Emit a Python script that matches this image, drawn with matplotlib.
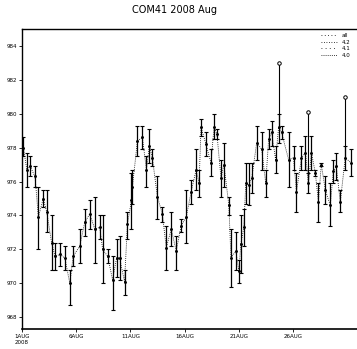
import matplotlib.pyplot as plt

# days since 1 Aug 2008 00:00, pressure (hPa): mid, low, high
day = [0.12, 0.43, 0.73, 1.19, 1.50, 1.95, 2.27, 2.72, 3.03, 3.49, 3.94, 4.40, 4.71,
       5.32, 5.78, 6.24, 6.70, 7.16, 7.43, 7.89, 8.35, 8.72, 8.99, 9.45, 9.72, 10.09,
       10.18, 10.64, 11.10, 11.47, 11.74, 12.02, 12.48, 12.94, 13.30, 13.76, 14.22,
       14.68, 15.14, 15.60, 16.06, 16.33, 16.51, 16.97, 17.43, 17.71, 17.98, 18.35,
       18.62, 19.08, 19.27, 19.72, 20.00, 20.18, 20.46, 20.64, 20.92, 21.19, 21.65,
       22.11, 22.48, 22.75, 23.03, 23.39, 23.67, 23.94, 24.59, 25.05, 25.32, 25.78,
       26.15, 26.42, 26.70, 27.06, 27.34, 27.61, 27.98, 28.44, 28.72, 28.99, 29.36,
       29.82, 30.37]
p_mid = [978.0, 976.7, 976.9, 976.3, 973.9, 975.0, 974.2, 972.4, 971.6, 971.7, 971.5,
         970.0, 971.6, 972.2, 973.6, 974.1, 973.2, 973.3, 972.0, 971.6, 970.2, 971.5,
         971.5, 970.1, 973.5, 974.9, 975.7, 978.4, 978.6, 976.7, 978.1, 977.4, 975.1,
         974.1, 972.1, 973.2, 971.9, 973.4, 973.9, 975.4, 976.7, 975.9, 979.2, 978.2,
         977.1, 979.2, 978.8, 976.2, 977.0, 974.6, 971.5, 971.9, 970.7, 972.3, 973.3,
         975.9, 975.8, 976.2, 978.3, 977.9, 975.9, 978.5, 978.9, 977.3, 979.2, 978.9,
         977.3, 977.4, 975.4, 977.4, 977.7, 975.9, 977.7, 976.5, 974.8, 977.0, 975.5,
         974.6, 976.6, 976.9, 974.8, 977.4, 977.1]
p_low = [977.5, 975.7, 976.3, 975.7, 972.0, 974.5, 973.0, 970.8, 970.8, 971.0, 970.8,
         968.7, 971.0, 971.2, 972.8, 973.2, 971.2, 972.6, 970.0, 971.2, 968.4, 970.4,
         970.2, 969.3, 972.6, 973.2, 974.7, 977.5, 977.9, 975.7, 977.1, 976.9, 973.8,
         973.6, 970.8, 972.2, 970.8, 973.0, 972.4, 974.7, 975.5, 975.1, 978.7, 977.5,
         976.3, 978.5, 978.5, 975.1, 975.7, 974.0, 969.8, 970.8, 970.0, 970.6, 972.2,
         974.7, 974.6, 975.3, 977.3, 976.7, 975.1, 977.9, 978.1, 976.5, 978.3, 978.5,
         975.7, 976.7, 974.2, 976.7, 976.7, 975.3, 976.7, 976.3, 973.6, 976.9, 974.7,
         973.4, 975.9, 976.1, 974.2, 976.7, 976.3]
p_high = [978.6, 977.7, 977.5, 976.9, 975.7, 975.5, 975.5, 974.0, 972.4, 972.4, 972.2,
          970.8, 972.2, 973.2, 974.4, 974.9, 975.1, 974.0, 974.0, 972.0, 971.6, 972.6,
          972.8, 970.8, 974.2, 976.5, 976.7, 979.3, 979.3, 977.5, 979.1, 977.9, 976.3,
          974.5, 973.4, 974.2, 972.8, 973.8, 975.5, 976.1, 977.9, 976.7, 979.7, 978.9,
          977.9, 980.0, 979.1, 977.3, 978.3, 975.1, 973.2, 973.0, 971.4, 974.0, 974.4,
          977.1, 977.1, 977.1, 979.3, 978.9, 976.7, 979.1, 979.6, 978.1, 980.0, 979.3,
          978.9, 978.1, 976.5, 978.1, 978.7, 976.5, 978.7, 976.7, 975.9, 977.1, 976.3,
          975.9, 977.3, 977.7, 975.5, 978.1, 977.9]

# single outliers drawn as a stem with an open circle
spike_day = [23.67, 26.42, 29.82]
spike_base = [979.2, 975.9, 977.4]
spike_top = [983.0, 980.1, 981.0]

series = ["all", "4.2", "4.1", "4.0"]
xtick_days = [0, 5, 10, 15, 20, 25]
xtick_labels = ["1AUG\n2008", "6AUG", "11AUG", "16AUG", "21AUG", "26AUG"]
ytick_vals = [968, 970, 972, 974, 976, 978, 980, 982, 984]

fig = plt.figure(figsize=(3.57, 3.49), dpi=100)
ax = fig.add_axes([0.062, 0.057, 0.95, 0.86])

ax.plot(day, p_mid, color="black", lw=0.6, ls=(0, (1, 1.5)))
ax.errorbar(day, p_mid, yerr=[[m - l for m, l in zip(p_mid, p_low)],
                              [h - m for m, h in zip(p_mid, p_high)]],
            fmt=".", ms=2.2, color="black", elinewidth=0.9, capsize=1.2, capthick=0.8)
ax.vlines(spike_day, spike_base, spike_top, color="black", lw=0.8)
ax.plot(spike_day, spike_top, "o", ms=2.5, mfc="white", mec="black", mew=0.7)

# legend entries: dotted samples only
for name, ls in zip(series, [(0, (1, 3)), (0, (1, 2)), (0, (1, 4)), (0, (1, 1.5))]):
    ax.plot([], [], color="black", lw=0.6, ls=ls, label=name)
ax.legend(loc="upper right", bbox_to_anchor=(0.98, 1.0), frameon=False, fontsize=4,
          handlelength=3, labelspacing=0.3, borderaxespad=0.3)

ax.set_xlim(0, 31.3)
ax.set_ylim(967.3, 985.0)
ax.set_xticks(xtick_days)
ax.set_xticklabels(xtick_labels, fontsize=4)
ax.set_yticks(ytick_vals)
ax.set_yticklabels([str(v) for v in ytick_vals], fontsize=4)
ax.tick_params(length=2, width=0.6, pad=1.5)

ax.spines["right"].set_visible(False)
ax.spines["top"].set_linestyle((0, (2, 1)))
ax.spines["top"].set_linewidth(1.0)
ax.spines["left"].set_linewidth(1.0)
ax.spines["bottom"].set_linewidth(1.2)

fig.suptitle("COM41 2008 Aug", x=0.49, y=0.985, fontsize=7, va="top")

fig.savefig("out.png", dpi=100)
